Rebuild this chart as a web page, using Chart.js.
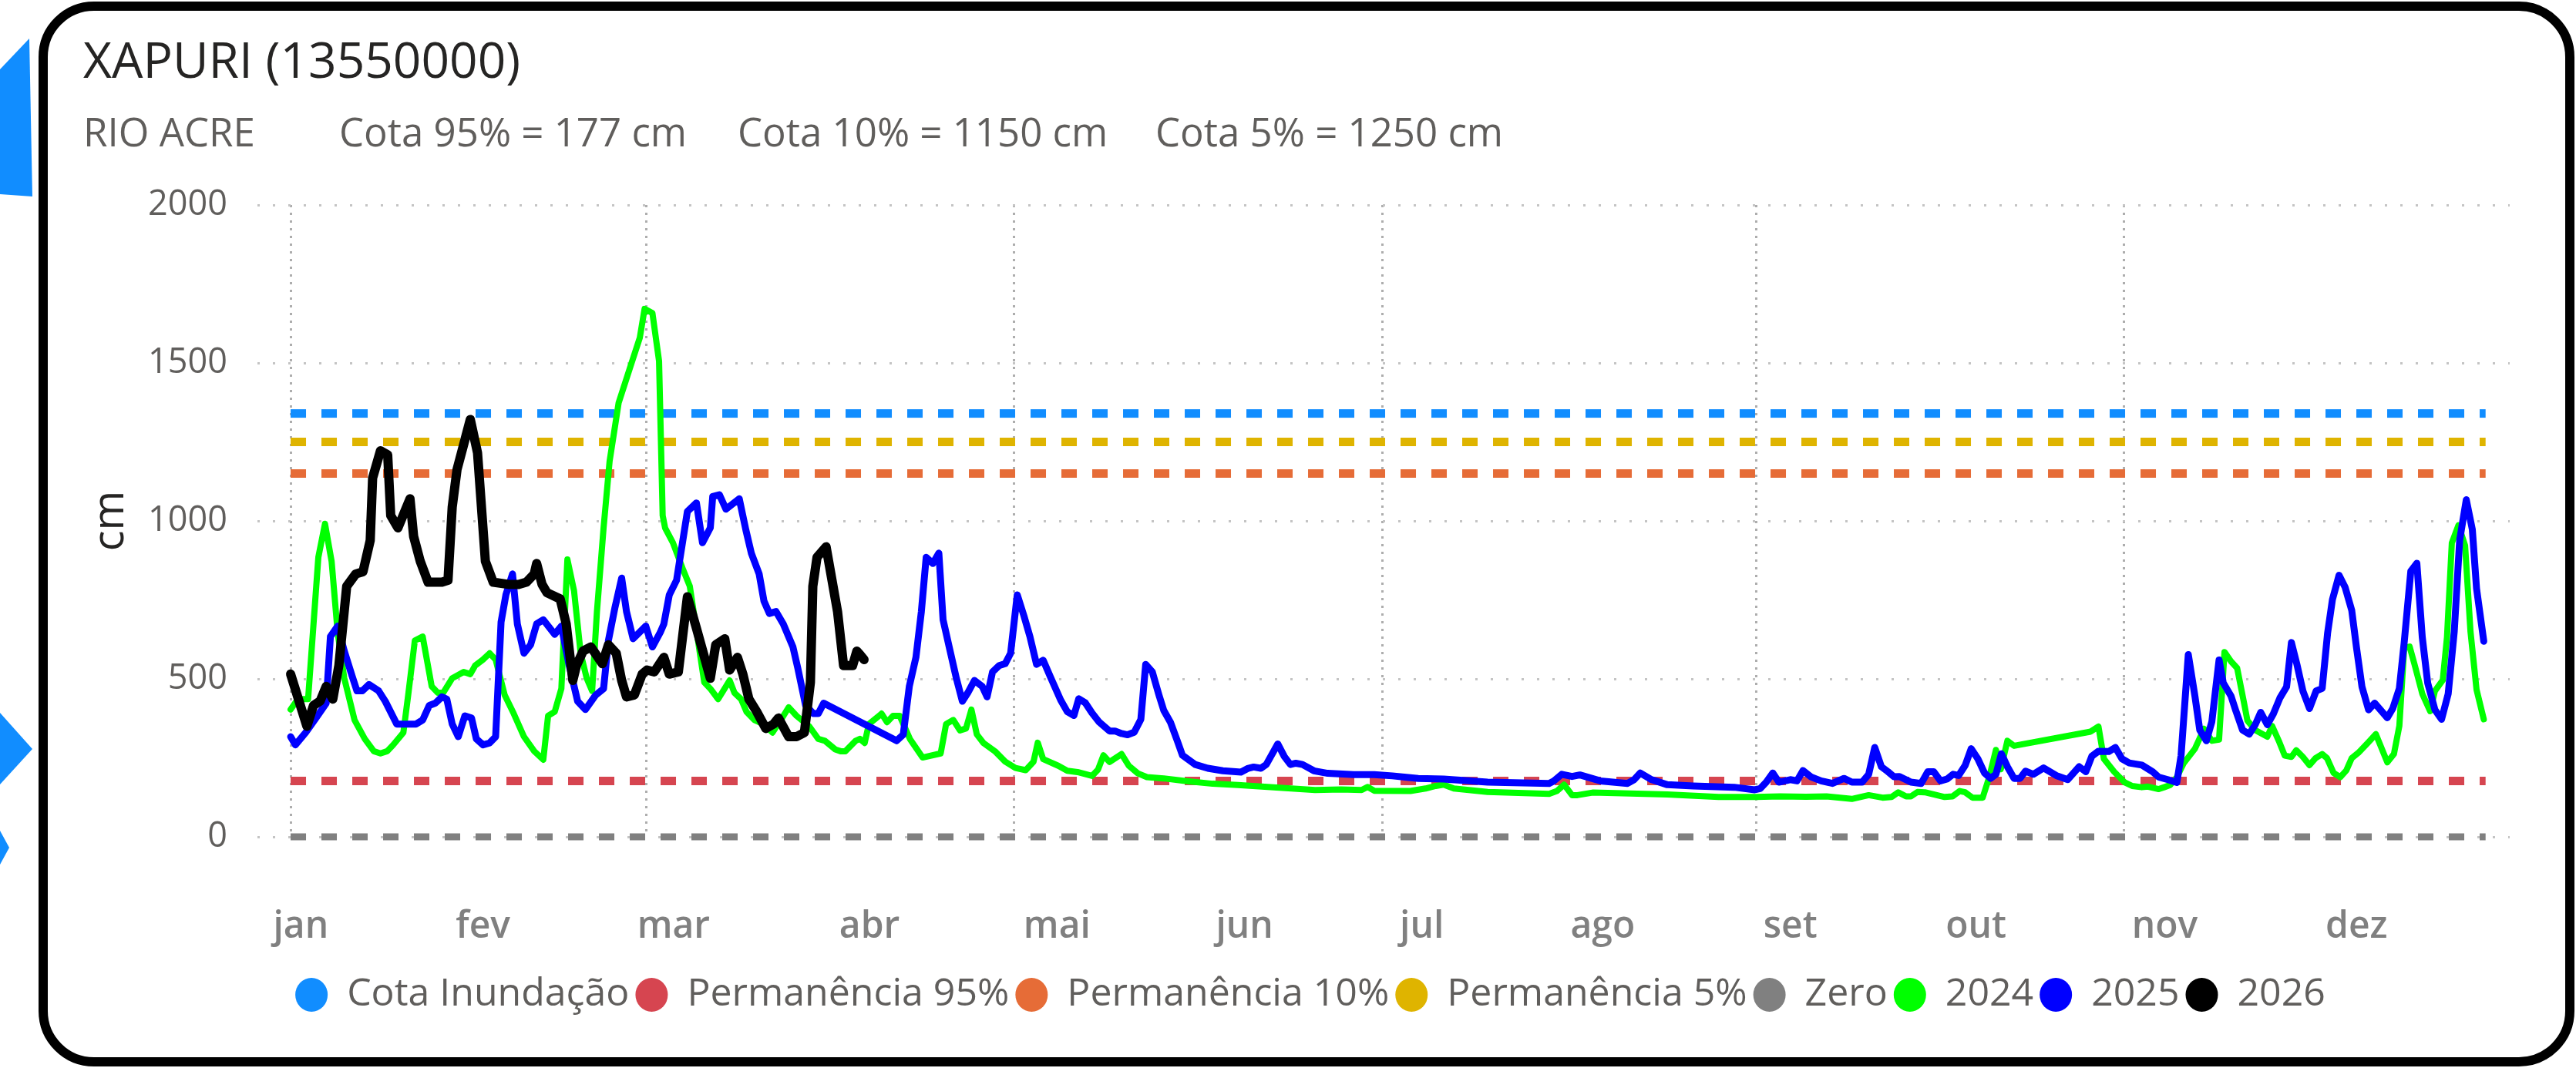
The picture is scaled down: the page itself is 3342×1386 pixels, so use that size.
<!DOCTYPE html>
<html>
<head>
<meta charset="utf-8">
<script src="https://cdn.jsdelivr.net/npm/chart.js@4.4.1/dist/chart.umd.min.js"></script>
<style>
  html, body { margin: 0; padding: 0; background: #fff; }
  body { width: 3342px; height: 1386px; position: relative; overflow: hidden; font-family: 'Open Sans', sans-serif; }
  .deco { position: absolute; background: #118DFF; }
  #card { position: absolute; left: 50px; top: 2px; width: 3290px; height: 1382px; box-sizing: border-box;
          border: 12px solid #000; border-radius: 72px; background: #fff; }
  .txt { position: absolute; white-space: nowrap; line-height: 1; }
  #title { left: 108px; top: 45px; font-size: 64px; color: #252423; font-weight: 500; }
  .sub { top: 145px; font-size: 51px; color: #605E5C; }
  #chartBox { position: absolute; left: 62px; top: 200px; width: 3266px; height: 1170px; }
</style>
</head>
<body>
<div class="deco" style="left:0;top:50px;width:44px;height:206px;clip-path:polygon(0 40px,38px 0,42px 205px,0 202px);"></div>
<div class="deco" style="left:0;top:925px;width:42px;height:93px;clip-path:polygon(0 0,42px 47px,0 93px);"></div>
<div class="deco" style="left:0;top:1078px;width:12px;height:44px;clip-path:polygon(0 0,12px 22px,0 44px);"></div>
<div id="card"></div>
<div class="txt" id="title">XAPURI (13550000)</div>
<div class="txt sub" style="left:108px;">RIO ACRE</div>
<div class="txt sub" style="left:440px;">Cota 95% = 177 cm</div>
<div class="txt sub" style="left:957px;">Cota 10% = 1150 cm</div>
<div class="txt sub" style="left:1499px;">Cota 5% = 1250 cm</div>
<div id="chartBox"><canvas id="chart" width="3266" height="1170"></canvas></div>
<script>
// month labels and where they sit on the day-of-year axis
const monthLabels = ['jan', 'fev', 'mar', 'abr', 'mai', 'jun', 'jul', 'ago', 'set', 'out', 'nov', 'dez'];
const monthLabelDays = [1.7, 31.9, 63.5, 96, 127.1, 158.2, 187.6, 217.6, 248.7, 279.5, 310.8, 342.6];
const gridDays = [0, 59, 120, 181, 243, 304];

// reference levels (cm)
const refNames = ['Cota Inundação', 'Permanência 95%', 'Permanência 10%', 'Permanência 5%', 'Zero'];
const refValues = [1340, 177, 1150, 1250, 0];
const refColors = ['#118DFF', '#D64550', '#E66C37', '#DFB400', '#808080'];
const refDays = [0, 364];

// [day of year, cm]
const nivel2024 = [
  [0,403],[1.2,436],[2.9,436],[4.6,885],[5.7,991],[6.8,872],[7.8,647],[8.9,502],[10.6,370],[12.3,310],
  [13.8,271],[14.9,264],[16,271],[17,291],[18.7,330],[19.5,449],[20.6,621],[21.9,634],[23.4,476],[24.4,456],
  [25.3,456],[26.8,502],[28.7,522],[29.8,515],[30.6,542],[31.9,561],[33,581],[34,561],[35.5,449],[37,390],
  [38.7,317],[40.4,271],[41.9,244],[42.7,383],[43.8,396],[44.9,469],[45.9,878],[47,779],[48.1,581],[49.1,502],
  [50,462],[50.8,713],[51.9,978],[52.9,1189],[54.4,1374],[56.2,1480],[57.9,1579],[58.7,1671],[60,1658],[61.1,1506],
  [61.7,1017],[62.1,978],[63.4,931],[65.1,845],[66.2,793],[68.6,489],[69.6,469],[70.9,436],[72.8,495],[73.6,456],
  [74.7,436],[75.6,396],[76.9,370],[78.4,357],[79.9,330],[81.3,370],[82.6,410],[83.9,383],[86,350],[87.5,310],
  [88.6,304],[90.3,277],[91.2,271],[92,271],[93.7,304],[94.4,310],[95.2,297],[95.9,357],[97.6,383],[98,390],
  [98.9,363],[99.9,383],[101,383],[102.7,310],[104.8,251],[107.8,264],[108.7,357],[109.9,370],[111,337],[112,343],
  [112.9,403],[113.8,324],[114.9,297],[116.8,271],[118.5,238],[120.2,218],[121.9,211],[123.2,238],[123.9,298],[124.8,246],
  [127.3,225],[128.8,209],[130.5,205],[132.9,193],[133.9,213],[134.8,258],[135.8,237],[137.8,262],[139,225],[140.5,201],
  [142,189],[144.8,185],[148.6,176],[152.9,168],[157.1,164],[163.5,156],[169.9,148],[174.2,150],[177.6,148],[178.6,158],
  [179.7,146],[185.7,145],[188.2,153],[189.9,161],[191.2,165],[192.9,153],[198.5,142],[208.7,136],[210,145],[211.2,165],
  [212.5,132],[213.4,132],[215.9,140],[228.3,134],[236.8,126],[243,126],[247,128],[251.3,127],[254.7,128],[258.9,120],
  [261.7,132],[264,124],[265.5,126],[266.6,141],[267.9,128],[268.7,128],[269.8,142],[271,141],[274.3,126],[275.6,128],
  [276.8,145],[277.7,141],[278.9,124],[280.6,124],[281.7,190],[282.8,275],[283.6,214],[284.7,304],[285.8,288],[298.5,333],
  [299.8,349],[300.7,247],[302.4,206],[304.1,173],[305.4,161],[307,157],[308,159],[309.8,151],[310.7,157],[311.7,164],
  [312.8,189],[313.9,232],[315.8,279],[317.3,342],[318.6,304],[319.8,308],[320.7,585],[321.8,555],[322.8,534],[323.9,428],
  [324.5,368],[325.8,338],[327.8,317],[328.6,351],[329.7,304],[330.7,257],[331.8,253],[332.6,274],[333.7,253],[334.8,227],
  [335.8,249],[336.9,262],[337.7,249],[338.8,202],[339.9,189],[340.9,210],[341.8,249],[342.9,266],[344.6,300],[345.8,325],
  [347.7,236],[348.8,262],[349.7,351],[350.5,598],[351.4,602],[352.2,547],[353.5,453],[354.8,398],[355.6,462],[356.9,496],
  [357.6,632],[358.4,930],[359.5,986],[360.6,922],[361.5,649],[362.5,466],[363.7,372]
];

const nivel2025 = [
  [0,317],[0.8,291],[2.5,330],[4.2,376],[5.9,423],[6.6,634],[7.8,667],[8.9,588],[10.2,509],[11,462],
  [11.9,462],[13,482],[14.6,462],[15.7,429],[17.6,357],[20.8,357],[21.9,370],[23,416],[24,423],[25.1,443],
  [25.9,436],[26.8,357],[27.8,317],[28.9,383],[30,376],[30.8,310],[31.9,291],[33,297],[34,317],[34.9,680],
  [35.7,766],[36.8,832],[37.6,674],[38.7,581],[39.8,608],[40.8,674],[41.9,687],[43.8,641],[44.9,667],[46.2,542],
  [47.6,429],[48.9,403],[50.6,449],[51.9,469],[52.7,621],[53.8,727],[54.9,819],[55.7,713],[56.8,627],[58.9,667],
  [60,601],[61.3,647],[61.9,674],[62.8,766],[64,812],[65.8,1030],[67.3,1057],[68.3,931],[69.6,978],[70,1077],
  [71.1,1083],[72.2,1037],[74.4,1070],[75.5,971],[76.4,898],[77.7,832],[78.5,746],[79.4,707],[80.5,713],[81.7,674],
  [83.3,601],[84.1,535],[85.4,416],[86.7,390],[87.5,390],[88.4,423],[100.5,304],[101.6,324],[102.6,476],[103.7,568],
  [104.6,713],[105.4,885],[106.5,865],[107.5,898],[108.2,687],[109.3,594],[110.4,502],[111.4,429],[112.3,456],[113.4,495],
  [114.7,476],[115.5,443],[116.4,522],[117.5,542],[118.5,548],[119.4,581],[120.5,766],[121.6,700],[122.6,634],[123.7,546],
  [124.8,559],[126,506],[127.7,433],[128.8,396],[129.9,384],[130.7,437],[131.8,424],[132.9,392],[134.1,363],[135.8,335],
  [136.7,335],[137.8,327],[138.8,323],[139.9,331],[141,372],[141.8,546],[142.9,522],[144,449],[144.8,400],[145.9,363],
  [147,306],[147.9,258],[150,229],[152.1,217],[154.6,209],[157.6,205],[158.8,217],[159.7,221],[160.9,217],[161.8,229],
  [163.7,294],[164.8,254],[165.8,229],[166.7,233],[167.8,229],[169.7,209],[172,201],[176.3,197],[179.7,197],[182.7,193],
  [187,185],[191.2,183],[198.5,173],[208.7,169],[209.5,177],[210.8,198],[212.5,191],[213.8,196],[217.2,177],[221.7,169],
  [222.8,181],[223.8,202],[225.7,181],[228.3,165],[232.6,161],[239.4,157],[242.8,149],[243.7,153],[244.7,173],[245.8,202],
  [246.8,173],[248.7,181],[249.8,177],[250.8,210],[252.1,190],[253.8,177],[255.7,169],[257.6,185],[258.9,173],[260.6,173],
  [261.7,198],[262.7,283],[263.8,222],[264.9,206],[265.9,190],[266.8,191],[268.7,173],[270.4,169],[271.5,206],[272.5,206],
  [273.6,177],[274.7,183],[275.7,198],[276.6,194],[277.7,226],[278.7,279],[279.8,247],[280.9,202],[281.9,185],[282.8,198],
  [283.7,263],[284.7,222],[285.8,185],[286.8,185],[287.7,208],[289,198],[290.7,218],[292.8,194],[294.7,181],[296.6,222],
  [297.7,206],[298.7,255],[299.8,271],[301.5,270],[302.6,283],[303.7,247],[304.9,234],[307,227],[308.8,206],[309.8,189],
  [311.3,181],[312.8,172],[313.5,257],[314.7,577],[315.8,445],[316.6,338],[317.7,304],[318.6,364],[319.8,560],[320.5,487],
  [321.8,445],[322.6,398],[323.7,338],[324.8,325],[325.8,355],[326.7,394],[327.8,355],[328.8,389],[329.9,440],[331,475],
  [331.8,615],[332.7,547],[333.7,462],[334.8,406],[335.9,462],[336.9,470],[337.8,645],[338.6,751],[339.7,828],[340.7,790],
  [341.8,717],[342.6,598],[343.5,475],[344.6,402],[345.6,423],[347.7,377],[348.6,406],[349.7,470],[350.5,615],[351.6,841],
  [352.6,866],[353.5,632],[354.4,487],[355.6,402],[356.7,372],[357.8,453],[358.8,649],[359.7,939],[360.8,1067],[361.8,973],
  [362.5,786],[363.7,619]
];

const nivel2026 = [
  [0,515],[2.7,350],[3.8,416],[4.9,430],[5.9,476],[7,436],[8,542],[9.3,793],[10.8,832],[12,839],
  [13.2,938],[13.6,1136],[14.9,1222],[16.1,1209],[16.6,1017],[17.8,978],[19.8,1070],[20.4,951],[21.5,872],[22.8,806],
  [25.1,806],[26.1,812],[26.8,1044],[27.6,1163],[29.8,1321],[31,1215],[32.3,872],[33.6,806],[36.1,799],[37.8,799],
  [39.1,806],[40.4,832],[40.8,865],[41.7,799],[42.5,773],[44.7,753],[45.7,674],[46.8,495],[47.4,542],[48.5,588],
  [49.8,601],[51.7,548],[52.7,608],[54,581],[54.9,495],[55.7,443],[57,449],[58.3,515],[59.1,528],[60.3,522],
  [61.9,568],[62.8,515],[64.3,522],[65.8,760],[67.3,660],[69.6,502],[70.5,608],[72,627],[72.8,528],[74.1,568],
  [75,515],[76,436],[77.3,396],[78.8,343],[80.1,357],[80.9,376],[82.6,317],[83.9,317],[85.2,330],[86.2,489],
  [86.6,793],[87.3,885],[88.8,918],[90.7,713],[91.7,542],[93.2,542],[93.9,588],[94.5,575],[95.1,561]
];

const toPoints = arr => arr.map(([x, y]) => ({ x, y }));

Chart.defaults.font.family = "'Open Sans', sans-serif";

const datasets = refNames.map((name, i) => ({
  label: name,
  data: refDays.map(d => ({ x: d, y: refValues[i] })),
  borderColor: refColors[i],
  backgroundColor: refColors[i],
  borderWidth: i === 4 ? 9 : 11,
  borderDash: [20, 20],
  pointRadius: 0,
  clip: false,
  order: 10
}));

const yearSeries = [
  { label: '2024', data: nivel2024, color: '#00FF00', width: 8, order: 3 },
  { label: '2025', data: nivel2025, color: '#0000FF', width: 9, order: 2 },
  { label: '2026', data: nivel2026, color: '#000000', width: 12, order: 1 }
];
yearSeries.forEach(s => {
  datasets.push({
    label: s.label,
    data: toPoints(s.data),
    borderColor: s.color,
    backgroundColor: s.color,
    borderWidth: s.width,
    borderJoinStyle: 'round',
    borderCapStyle: 'round',
    pointRadius: 0,
    tension: 0,
    order: s.order
  });
});

new Chart(document.getElementById('chart'), {
  type: 'line',
  data: { datasets },
  options: {
    responsive: false,
    animation: false,
    layout: { padding: { left: 82, right: 72, top: 64, bottom: 44 } },
    plugins: {
      tooltip: { enabled: false },
      legend: {
        position: 'bottom',
        labels: {
          usePointStyle: true,
          pointStyle: 'circle',
          boxHeight: 31,
          pointStyleWidth: 42,
          padding: 8,
          color: '#605E5C',
          font: { size: 50 },
          sort: (a, b) => a.datasetIndex - b.datasetIndex,
          generateLabels: chart => Chart.defaults.plugins.legend.labels.generateLabels(chart)
            .map(l => Object.assign(l, { lineWidth: 0, lineDash: [], strokeStyle: 'rgba(0,0,0,0)' }))
        }
      }
    },
    scales: {
      x: {
        type: 'linear',
        position: 'bottom',
        min: -5.5,
        max: 368,
        afterBuildTicks: s => { s.ticks = gridDays.map(v => ({ value: v })); },
        afterFit: s => { s.height = 0; },
        ticks: { display: false },
        grid: { color: '#ADADAD', lineWidth: 3, drawTicks: false },
        border: { display: false, dash: [3, 7] }
      },
      xm: {
        type: 'linear',
        position: 'bottom',
        min: -5.5,
        max: 368,
        afterBuildTicks: s => { s.ticks = monthLabelDays.map(v => ({ value: v })); },
        afterFit: s => { s.height = 172; },
        grid: { display: false, drawTicks: false },
        border: { display: false },
        ticks: {
          autoSkip: false,
          maxRotation: 0,
          minRotation: 0,
          padding: 89,
          color: '#808080',
          font: { size: 48, weight: '600' },
          callback: (v, i) => monthLabels[i]
        }
      },
      y: {
        min: 0,
        max: 2000,
        afterFit: s => { s.width = 190; },
        ticks: { stepSize: 500, padding: 39, color: '#605E5C', font: { size: 45 }, callback: v => String(v) },
        grid: { color: '#C4C4C4', lineWidth: 3, drawTicks: false },
        border: { display: false, dash: [3, 17] },
        title: {
          display: true,
          text: 'cm',
          color: '#252423',
          font: { size: 56 },
          padding: { top: -34, bottom: 0 }
        }
      }
    }
  }
});
</script>
</body>
</html>
